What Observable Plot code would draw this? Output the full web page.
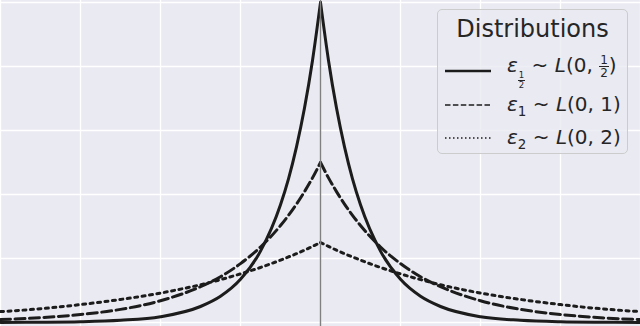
<!DOCTYPE html>
<html><head><meta charset="utf-8">
<script src="https://cdn.jsdelivr.net/npm/d3@7"></script>
<script src="https://cdn.jsdelivr.net/npm/@observablehq/plot@0.6"></script>
<style>
body{margin:0;background:#fff;}
#wrap{position:relative;width:640px;height:326px;font-family:"DejaVu Sans";color:#262626;overflow:hidden;}
#legend{position:absolute;left:437px;top:9px;width:191px;height:145px;background:rgba(234,234,242,0.8);border:1px solid #cccccc;border-radius:5px;box-sizing:border-box;}
#legend .title{position:absolute;left:0;width:100%;top:7px;text-align:center;font-size:24px;line-height:24px;}
#legend .row{position:absolute;left:7px;height:30px;display:flex;align-items:center;}
#legend .row svg{width:46px;height:10px;margin-right:16px;}
#legend .lab{font-size:20px;white-space:nowrap;}
.it{font-style:italic;}
.frac{display:inline-flex;flex-direction:column;align-items:center;vertical-align:middle;line-height:1;}
.frac span:first-child{border-bottom:1px solid #262626;padding:0 1px;}
.fr1{font-size:12px;}
.fr2{font-size:8.5px;vertical-align:-6px;}
sub{font-size:13.5px;vertical-align:-5px;}
</style></head>
<body><div id="wrap"></div>
<script>
// x offsets from the centre (mirrored on both sides) and densities
const offsets   = [0, 0.1, 0.2, 0.3, 0.4, 0.5, 0.75, 1, 1.25, 1.5, 2, 2.5, 3, 3.5, 4];
const densHalf  = [1.0, 0.819, 0.670, 0.549, 0.449, 0.368, 0.223, 0.135, 0.082, 0.050, 0.018, 0.007, 0.0025, 0.0009, 0.0003];
const densOne   = [0.5, 0.452, 0.409, 0.370, 0.335, 0.303, 0.236, 0.184, 0.143, 0.112, 0.068, 0.041, 0.025, 0.015, 0.009];
const densTwo   = [0.25, 0.238, 0.226, 0.215, 0.205, 0.195, 0.172, 0.152, 0.134, 0.118, 0.092, 0.072, 0.056, 0.043, 0.034];
const seriesNames = ["half", "one", "two"];
const xTicks = [-4, -3, -2, -1, 0, 1, 2, 3, 4];
const yTicks = [0, 0.2, 0.4, 0.6, 0.8, 1.0];

function build(name, dens) {
  const rows = [];
  for (let i = offsets.length - 1; i >= 0; i--) rows.push({x: -offsets[i], y: dens[i], s: name, side: "L"});
  for (let i = 0; i < offsets.length; i++) rows.push({x: offsets[i], y: dens[i], s: name, side: "R"});
  return rows;
}
const dHalf = build(seriesNames[0], densHalf);
const dOne = build(seriesNames[1], densOne);
const dTwo = build(seriesNames[2], densTwo);

const ink = "#1c1c1c";
const chart = Plot.plot({
  width: 640, height: 326,
  margin: 0,
  style: {background: "#EAEAF2"},
  x: {domain: [-4, 4], axis: null},
  y: {domain: [-0.0125, 1.00625], axis: null},
  marks: [
    Plot.ruleX(xTicks, {stroke: "white", strokeWidth: 1.3}),
    Plot.ruleY(yTicks, {stroke: "white", strokeWidth: 1.3}),
    Plot.line(dTwo, {x: "x", y: "y", z: "side", curve: "monotone-x", stroke: ink, strokeWidth: 3, strokeDasharray: "3,4.5"}),
    Plot.line(dOne, {x: "x", y: "y", z: "side", curve: "monotone-x", stroke: ink, strokeWidth: 3, strokeDasharray: "10,4.5"}),
    Plot.line(dHalf, {x: "x", y: "y", z: "side", curve: "monotone-x", stroke: ink, strokeWidth: 3}),
    Plot.ruleX([0], {stroke: "#808080", strokeWidth: 1.4})
  ]
});
const wrap = document.getElementById("wrap");
wrap.appendChild(chart);

const legend = document.createElement("div");
legend.id = "legend";
legend.innerHTML = `
<div class="title">Distributions</div>
<div class="row" style="top:46px"><svg><line x1="0" x2="46" y1="5" y2="5" stroke="${ink}" stroke-width="2.6"/></svg>
<span class="lab"><span class="it">ε</span><span class="frac fr2"><span>1</span><span>2</span></span> ~ <span class="it">L</span>(0, <span class="frac fr1"><span>1</span><span>2</span></span>)</span></div>
<div class="row" style="top:80px"><svg><line x1="0" x2="46" y1="5" y2="5" stroke="${ink}" stroke-width="1.5" stroke-dasharray="5.5,2.4"/></svg>
<span class="lab"><span class="it">ε</span><sub>1</sub> ~ <span class="it">L</span>(0, 1)</span></div>
<div class="row" style="top:113px"><svg><line x1="0" x2="46" y1="5" y2="5" stroke="${ink}" stroke-width="1.5" stroke-dasharray="1.5,2.5"/></svg>
<span class="lab"><span class="it">ε</span><sub>2</sub> ~ <span class="it">L</span>(0, 2)</span></div>`;
wrap.appendChild(legend);
</script></body></html>
